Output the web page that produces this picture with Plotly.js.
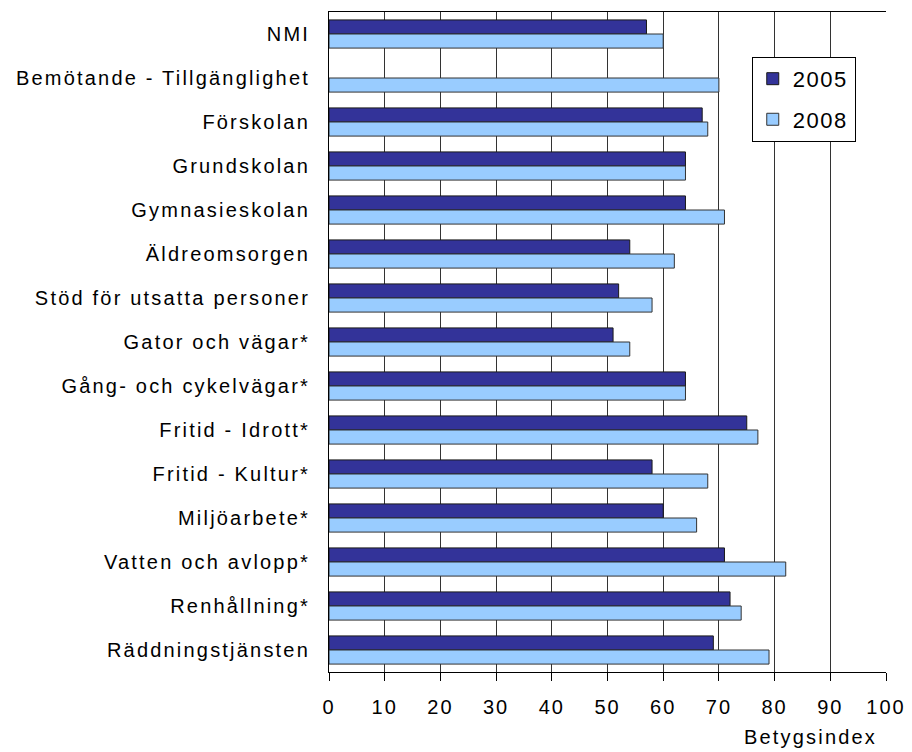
<!DOCTYPE html>
<html>
<head>
<meta charset="utf-8">
<script src="https://cdn.plot.ly/plotly-3.0.1.min.js"></script>
<style>
html,body{margin:0;padding:0;background:#fff;}
#chart{width:912px;height:752px;}
#chart .ytick text{letter-spacing:2.2px;}
#chart .xtick text{letter-spacing:2px;}
#chart .legendtext{letter-spacing:1.5px;}
#chart .annotation-text{letter-spacing:2.2px;}
#chart .xgrid{shape-rendering:crispEdges;}
</style>
</head>
<body>
<div id="chart"></div>
<script>
const categories = ["NMI","Bemötande - Tillgänglighet","Förskolan","Grundskolan","Gymnasieskolan","Äldreomsorgen","Stöd för utsatta personer","Gator och vägar*","Gång- och cykelvägar*","Fritid - Idrott*","Fritid - Kultur*","Miljöarbete*","Vatten och avlopp*","Renhållning*","Räddningstjänsten"];
const values2005 = [57, null, 67, 64, 64, 54, 52, 51, 64, 75, 58, 60, 71, 72, 69];
const values2008 = [60, 70, 68, 64, 71, 62, 58, 54, 64, 77, 68, 66, 82, 74, 79];
const xTicks = [0,10,20,30,40,50,60,70,80,90,100];
const xTitle = "Betygsindex";

const fam = "Liberation Sans, Arial, sans-serif";
const font = {family: fam, size: 20, color: "#000"};

const traces = [
  {type:"bar", orientation:"h", name:"2005", legendgroup:"a", y:categories, x:values2005,
   marker:{color:"#333399", line:{color:"#1a1a1a", width:1}}},
  {type:"bar", orientation:"h", name:"2008", legendgroup:"b", y:categories, x:values2008,
   marker:{color:"#99CCFF", line:{color:"#333333", width:1}}}
];

const layout = {
  width:912, height:752,
  margin:{l:329, r:26, t:12, b:80},
  paper_bgcolor:"#fff", plot_bgcolor:"#fff",
  font:font,
  barmode:"group", bargap:0.36, bargroupgap:0,
  showlegend:true,
  legend:{x:0.759, y:0.932, xanchor:"left", yanchor:"top", bgcolor:"#fff",
          bordercolor:"#000", borderwidth:1, font:{family:fam, size:22, color:"#000"},
          traceorder:"grouped", tracegroupgap:9, itemwidth:30},
  xaxis:{range:[0,100], tickvals:xTicks, ticktext:xTicks.map(String),
         showgrid:true, gridcolor:"#333333", gridwidth:1,
         showline:true, linecolor:"#000", linewidth:1, mirror:true,
         ticks:"outside", ticklen:8, tickcolor:"#000", zeroline:false,
         ticklabelstandoff:9,
         tickfont:{family:fam, size:20, color:"#000"}},
  yaxis:{autorange:"reversed", showgrid:false, showline:true, linecolor:"#000", linewidth:1,
         mirror:false, ticks:"", ticklabelstandoff:14, tickfont:{family:fam, size:20, color:"#000"}},
  annotations:[{text:xTitle, xref:"paper", yref:"paper", x:0.865, y:0, xanchor:"center", yanchor:"top",
                yshift:-52, showarrow:false, font:{family:fam, size:20, color:"#000"}}]
};

Plotly.newPlot("chart", traces, layout, {displayModeBar:false, staticPlot:true}).then(function(gd){
  const bg = gd.querySelector(".legend rect.bg");
  if (bg) { bg.setAttribute("width", 103); }
});
</script>
</body>
</html>
